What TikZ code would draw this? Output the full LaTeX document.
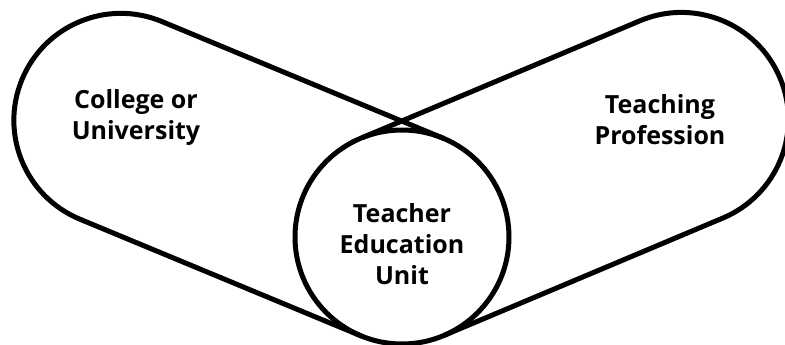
\documentclass[tikz,border=0pt]{standalone}
\usepackage{fontspec}
\setmainfont{Open Sans}
\begin{document}
\begin{tikzpicture}[x=1pt,y=-1pt,
		ring/.style={circle, inner sep=0pt, outer sep=0pt, minimum size=214pt},
		belt/.style={line width=5pt, line join=round},
		label/.style={align=center, font=\bfseries\fontsize{25}{31}\selectfont}]
		\useasboundingbox (0,0) rectangle (785,345);

		% Circles
		\node[ring] (univ) at (120,120) {};
		\node[ring] (prof) at (680,120) {};
		\node[ring, belt, draw] (teu) at (402,237) {};

		% Labels
		\node[label] (univtxt) at (136,118) {College or\\University};
		\node[label] (proftxt) at (660,120) {Teaching\\Profession};
		\node[label] (teutxt) at (402,244) {Teacher\\Education\\Unit};

		% Belts
		\draw[belt] (teu.-112.5) -- (univ.-112.5) arc[start angle=247.5, end angle=67.5, radius=107pt] -- (teu.67.5);
		\draw[belt] (teu.112.8) -- (prof.112.8) arc[start angle=112.8, end angle=-67.2, radius=107pt] -- (teu.-67.2);
	\end{tikzpicture}
\end{document}
